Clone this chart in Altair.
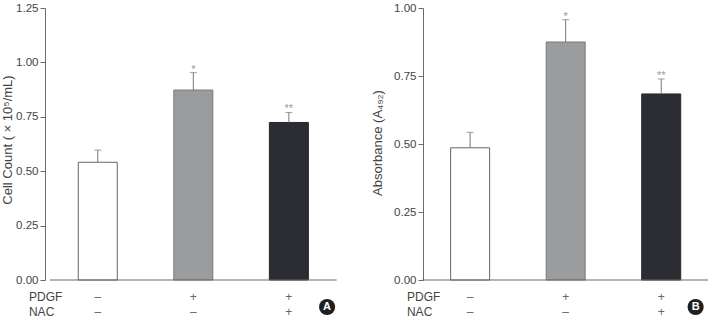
import altair as alt
import pandas as pd

# ---- data ----
pdgf_row = ["–", "+", "+"]
nac_row = ["–", "–", "+"]
row_labels = ["PDGF", "NAC"]
stars = ["", "*", "**"]

cell_count_mean = [0.541, 0.873, 0.724]
cell_count_err = [0.056, 0.080, 0.046]

absorbance_mean = [0.486, 0.875, 0.684]
absorbance_err = [0.057, 0.082, 0.055]

bar_fill = ["#ffffff", "#9b9c9d", "#2c2d32"]
bar_stroke = ["#666666", "#7a7a7a", "#26272b"]

FONT = "Liberation Sans"
TXT = "#444444"
AX = "#6a6a6a"

# ---- layout (pixels / units) ----
PX = 97.0                     # pixels per category slot
W = 668                       # full plot width, both panels
GAP = 378                     # distance between the two y axes (px)
OFF_B = GAP / PX              # x offset of panel B in slot units
SPAN_B = 290 / PX
XMAX = W / PX

xs = alt.Scale(domain=[0, XMAX], nice=False, zero=False)
x_ticks = [0, 1, 2, 3, OFF_B, OFF_B + 1, OFF_B + 2, OFF_B + SPAN_B]


def panel(means, errs, ytitle, ymax, yvalues, letter, off, letter_x,
          title_x, title_y, title_size, axis_offset, first):
    df = pd.DataFrame({
        "pos": [off + i + 0.5 for i in range(len(means))],
        "mean": means,
        "upper": [m + e for m, e in zip(means, errs)],
        "star": stars,
        "pdgf": pdgf_row,
        "nac": nac_row,
        "fill": bar_fill,
        "stroke": bar_stroke,
    })
    ys = alt.Scale(domain=[0, ymax], nice=False)
    base = alt.Chart(df)
    yaxis = alt.Axis(values=yvalues, format=".2f", title=ytitle, orient="left",
                     offset=axis_offset, tickSize=5, domainColor=AX, tickColor=AX,
                     grid=False, labelFont=FONT, labelFontSize=11.5, labelColor=TXT,
                     labelPadding=2, titleFont=FONT, titleFontSize=title_size,
                     titleFontWeight="normal", titleColor=TXT,
                     titleX=title_x, titleY=title_y)
    if first:
        xenc = alt.X("pos:Q", scale=xs,
                     axis=alt.Axis(values=x_ticks, labels=False, title=None, domain=False,
                                   tickSize=5, tickColor=AX, grid=False))
    else:
        xenc = alt.X("pos:Q", scale=xs, axis=None)

    bars = base.mark_bar(size=39, strokeWidth=1).encode(
        x=xenc,
        y=alt.Y("mean:Q", scale=ys, axis=yaxis),
        fill=alt.Fill("fill:N", scale=None),
        stroke=alt.Stroke("stroke:N", scale=None),
    )
    baseline = alt.Chart(pd.DataFrame({"x0": [off], "x1": [off + (3 if first else SPAN_B)]})
                         ).mark_rule(color=AX, strokeWidth=1).encode(
        x="x0:Q", x2="x1:Q", y=alt.datum(0))
    err = base.mark_rule(color="#777777", strokeWidth=1).encode(
        x="pos:Q", y="mean:Q", y2="upper:Q")
    cap = base.mark_tick(orient="horizontal", size=7, thickness=1, color="#777777").encode(
        x="pos:Q", y="upper:Q")
    star = base.mark_text(font=FONT, fontSize=11, color="#999999",
                          baseline="alphabetic").encode(
        x="pos:Q", y="upper:Q", text="star:N")
    r1 = base.mark_text(font=FONT, fontSize=12, color="#666666", dy=17).encode(
        x="pos:Q", y=alt.datum(0), text="pdgf:N")
    r2 = base.mark_text(font=FONT, fontSize=12, color="#666666", dy=32).encode(
        x="pos:Q", y=alt.datum(0), text="nac:N")
    # row labels, right-aligned so that both begin 16 px left of the y axis
    l1 = alt.Chart(pd.DataFrame({"t": [row_labels[0]]})).mark_text(
        font=FONT, fontSize=12, color=TXT, align="right", dy=17).encode(
        x=alt.value(off * PX + 17.3), y=alt.datum(0), text="t:N")
    l2 = alt.Chart(pd.DataFrame({"t": [row_labels[1]]})).mark_text(
        font=FONT, fontSize=12, color=TXT, align="right", dy=32).encode(
        x=alt.value(off * PX + 9.3), y=alt.datum(0), text="t:N")
    ldf = pd.DataFrame({"t": [letter]})
    circ = alt.Chart(ldf).mark_point(filled=True, shape="circle", size=260, opacity=1,
                                     color="#1f1f1f", yOffset=27).encode(
        x=alt.datum(off + letter_x), y=alt.datum(0))
    let = alt.Chart(ldf).mark_text(font=FONT, fontSize=11, fontWeight="bold",
                                   color="white", dy=27).encode(
        x=alt.datum(off + letter_x), y=alt.datum(0), text="t:N")
    return alt.layer(bars, baseline, err, cap, star, r1, r2, l1, l2, circ, let)


a = panel(cell_count_mean, cell_count_err, "Cell Count ( × 10⁵/mL)", 1.25,
          [0, 0.25, 0.5, 0.75, 1.0, 1.25], "A", 0, 2.9, -31, 131.5, 13, 0, True)
b = panel(absorbance_mean, absorbance_err, "Absorbance (A₄₉₂)", 1.0,
          [0, 0.25, 0.5, 0.75, 1.0], "B", OFF_B, 2.86, -38.5, 134.5, 13, -GAP, False)

chart = alt.layer(a, b).resolve_scale(y="independent").properties(
    width=W, height=272,
    padding={"left": 45, "top": 8, "right": 5, "bottom": 40},
    autosize=alt.AutoSizeParams(type="none"),
    background="white",
).configure_view(stroke=None)

chart.save("out.html", embed_options={"renderer": "svg", "actions": False})
